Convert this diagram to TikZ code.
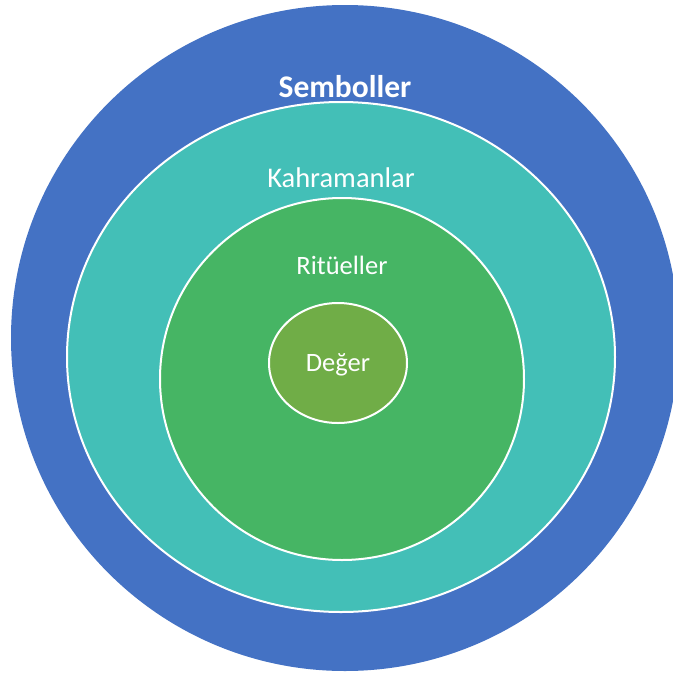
\documentclass[tikz,border=0pt]{standalone}
\usepackage{fontspec}
\usetikzlibrary{shapes.geometric}
\setmainfont{Carlito}
\definecolor{cblue}{RGB}{68,114,196}
\definecolor{cteal}{RGB}{67,191,183}
\definecolor{cgreen}{RGB}{70,181,100}
\definecolor{cleaf}{RGB}{112,173,71}
\tikzset{
  ring/.style={draw=white, line width=2pt},
  lbl/.style={text=white, anchor=base, inner sep=0pt, font=\fontsize{26.5}{30}\selectfont},
}
\begin{document}
\begin{tikzpicture}[x=1pt,y=-1pt]
\useasboundingbox (0,0) rectangle (673,673);
\clip (0,0) rectangle (673,673);
\fill[cblue] (345,338) ellipse [x radius=334, y radius=333];
\fill[cteal, ring] (341,357) ellipse [x radius=274, y radius=255];
\fill[cgreen, ring] (342,379) ellipse [x radius=182, y radius=181];
\node[ellipse, minimum width=138pt, minimum height=120pt, inner sep=0pt, fill=cleaf, ring] (deger) at (338,363) {};
\node[lbl, font=\bfseries\fontsize{31.5}{36}\selectfont] (semb) at (345,97) {Semboller};
\node[lbl, font=\fontsize{28.5}{33}\selectfont] (kahr) at (341,187) {Kahramanlar};
\node[lbl] (rit) at (342,274) {Ritüeller};
\node[lbl] (deg) at (338,371) {Değer};
\end{tikzpicture}
\end{document}
